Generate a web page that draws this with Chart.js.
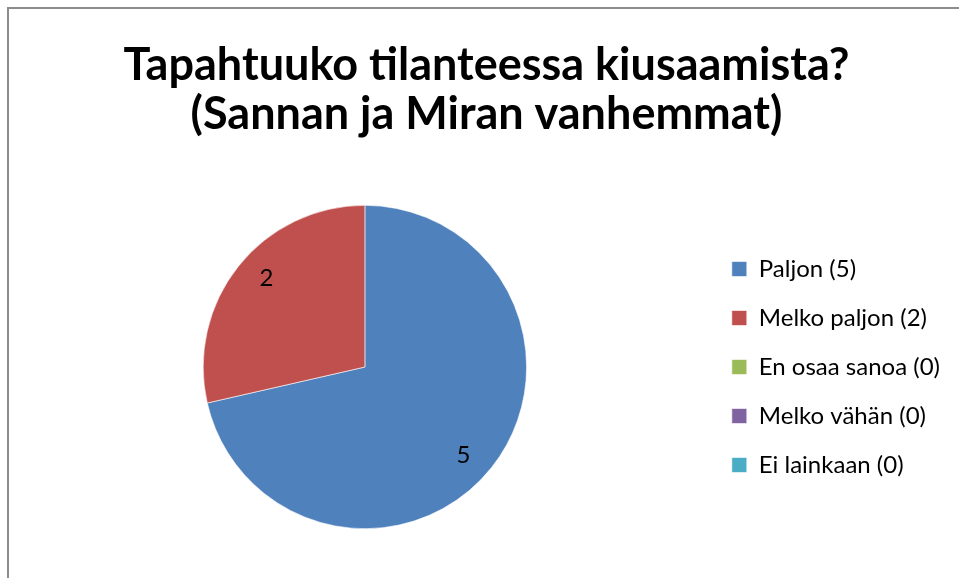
<!DOCTYPE html>
<html>
<head>
<meta charset="utf-8">
<script src="https://cdn.jsdelivr.net/npm/chart.js@4.4.1/dist/chart.umd.min.js"></script>
<style>
  html, body { margin: 0; padding: 0; background: #fff; overflow: hidden; }
  #wrap { position: relative; width: 959px; height: 578px; }
  #frame { position: absolute; left: 7px; top: 7px; width: 1000px; height: 1000px;
           border-left: 2px solid #8c8c8c; border-top: 2px solid #8c8c8c; }
  canvas { position: absolute; left: 0; top: 0; }
</style>
</head>
<body>
<div id="wrap">
  <div id="frame"></div>
  <canvas id="c" width="959" height="578"></canvas>
</div>
<script>
const titleLines = ["Tapahtuuko tilanteessa kiusaamista?", "(Sannan ja Miran vanhemmat)"];
const categories = ["Paljon", "Melko paljon", "En osaa sanoa", "Melko vähän", "Ei lainkaan"];
const values = [5, 2, 0, 0, 0];
const colors = ["#4F81BD", "#C0504D", "#9BBB59", "#8064A2", "#4BACC6"];

const legendLabels = categories.map((c, i) => c + " (" + values[i] + ")");

const dataLabelPlugin = {
  id: 'dataLabels',
  afterDatasetsDraw(chart) {
    const ctx = chart.ctx;
    const meta = chart.getDatasetMeta(0);
    ctx.save();
    ctx.font = '24px Lato, Carlito, sans-serif';
    ctx.fillStyle = '#000';
    ctx.textAlign = 'center';
    ctx.textBaseline = 'middle';
    meta.data.forEach((arc, i) => {
      const v = values[i];
      if (!v) return;
      const p = arc.getProps(['x', 'y', 'startAngle', 'endAngle', 'outerRadius'], true);
      const mid = (p.startAngle + p.endAngle) / 2 + 0.06;
      const r = p.outerRadius * 0.82;
      ctx.fillText(String(v), p.x + Math.cos(mid) * r, p.y + Math.sin(mid) * r);
    });
    ctx.restore();
  }
};

new Chart(document.getElementById('c'), {
  type: 'pie',
  data: {
    labels: legendLabels,
    datasets: [{
      data: values,
      backgroundColor: colors,
      borderColor: '#ffffff',
      borderWidth: 0.6,
      hoverOffset: 0
    }]
  },
  options: {
    responsive: false,
    animation: false,
    events: [],
    layout: { padding: { left: 23, right: 9, top: 0, bottom: 49 } },
    plugins: {
      tooltip: { enabled: false },
      title: {
        display: true,
        text: titleLines,
        color: '#000',
        font: { family: 'Lato, Carlito, sans-serif', size: 45, weight: 'bold', lineHeight: 1.089 },
        padding: { top: 41, bottom: 66 }
      },
      legend: {
        position: 'right',
        align: 'center',
        fullSize: false,
        labels: {
          color: '#000',
          font: { family: 'Lato, Carlito, sans-serif', size: 24 },
          boxWidth: 15,
          boxHeight: 15,
          padding: 25
        }
      }
    }
  },
  plugins: [dataLabelPlugin]
});
</script>
</body>
</html>
